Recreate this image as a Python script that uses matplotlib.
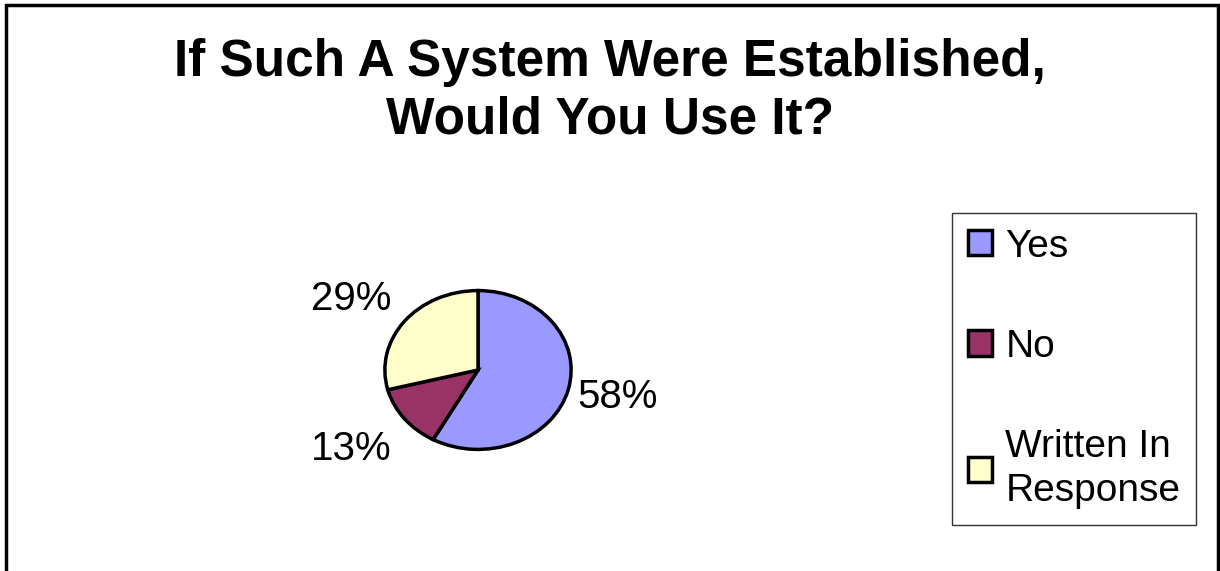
import matplotlib.pyplot as plt
from matplotlib.patches import Rectangle

labels = ["Yes", "No", "Written In\nResponse"]
shares = [58, 13, 29]
colors = ["#9999ff", "#993366", "#ffffcc"]
# where each percentage label sits, in pie radius units
label_pos = [(1.5, -0.34), (-1.36, -1.0), (-1.36, 0.9)]

plt.rcParams["font.family"] = ["Liberation Sans", "DejaVu Sans"]

fig = plt.figure(figsize=(12.2, 5.71), dpi=100)

# outer chart frame
fig.patches.append(Rectangle((6 / 1220, -0.05), 1212 / 1220, 1.05 - 5 / 571,
                             transform=fig.transFigure, fill=False,
                             edgecolor="black", linewidth=2.5))

fig.text(0.5, 0.84, "If Such A System Were Established,\nWould You Use It?",
         ha="center", va="center", fontsize=37, fontweight="bold",
         linespacing=1.22)

# pie drawn into a non-square axes so it comes out as an ellipse
ax = fig.add_axes([383 / 1220, 1 - 451 / 571, 190 / 1220, 162 / 571])
wedges, texts = ax.pie(shares, colors=colors, startangle=90, counterclock=False,
                       wedgeprops=dict(edgecolor="black", linewidth=2.5),
                       labels=[f"{s}%" for s in shares],
                       textprops=dict(fontsize=29))
for t, pos in zip(texts, label_pos):
    t.set_position(pos)
    t.set_ha("center")
    t.set_va("center")
ax.set_aspect("auto")
ax.set_xlim(-1.02, 1.02)
ax.set_ylim(-1.02, 1.02)

leg = fig.legend(wedges, labels, loc="upper left",
                 bbox_to_anchor=(952 / 1220, 1 - 213 / 571),
                 fontsize=28, frameon=True, fancybox=False, edgecolor="black",
                 labelspacing=1.65, handlelength=0.62, handleheight=0.62,
                 handletextpad=0.35, borderpad=0.4, borderaxespad=0)
leg.get_frame().set_linewidth(1)
leg.get_texts()[2].set_linespacing(1.3)

fig.savefig("out.png", dpi=100)
